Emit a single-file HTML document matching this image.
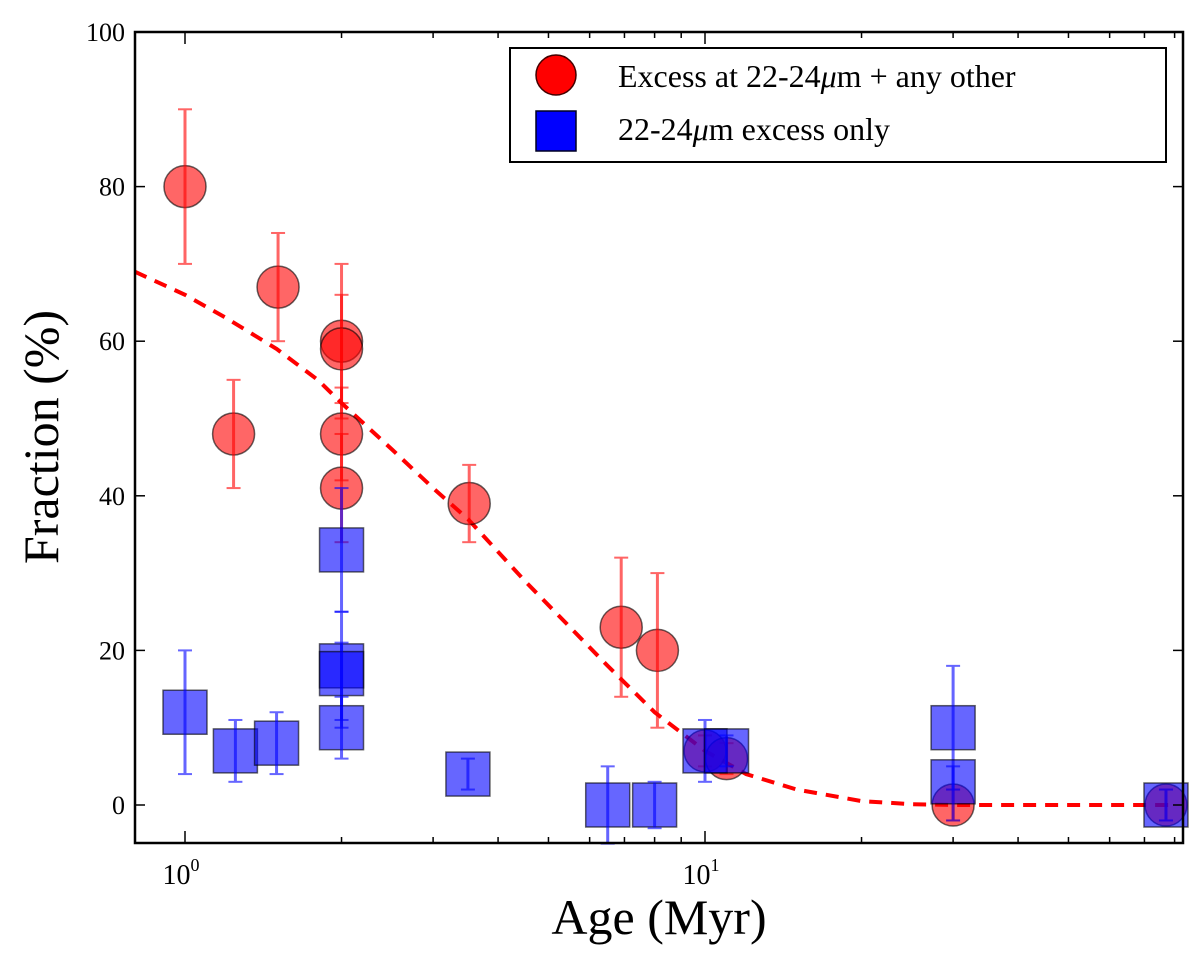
<!DOCTYPE html>
<html><head><meta charset="utf-8"><style>
body{margin:0;background:#fff}
svg{display:block;font-family:"Liberation Serif","DejaVu Serif",serif}
</style></head><body>
<svg id="chart" width="1200" height="962" viewBox="0 0 1200 962" xmlns="http://www.w3.org/2000/svg">
<g id="fit"></g>
<g id="marks"></g>
<g id="axes"></g>
<g>
<rect x="510" y="48" width="656" height="114" fill="#fff" stroke="#000" stroke-width="2"/>
<circle cx="556" cy="75" r="20" fill="#ff0000" stroke="#400" stroke-width="1.5"/>
<text x="618" y="87" font-size="32">Excess at 22-24<tspan font-style="italic">μ</tspan>m + any other</text>
<rect x="536" y="111" width="40" height="40" fill="#0000ff" stroke="#002" stroke-width="1.5"/>
<text x="618" y="140" font-size="32">22-24<tspan font-style="italic">μ</tspan>m excess only</text>
</g>
<text x="659" y="934" font-size="50" text-anchor="middle">Age (Myr)</text>
<text transform="translate(58,437) rotate(-90)" font-size="50" text-anchor="middle">Fraction (%)</text>
</svg>
<script>
const redAge=[1.0,1.24,1.51,2.0,2.0,2.0,2.0,3.52,6.9,8.1,10,11,30,77];
const redVal=[80,48,67,60,59,48,41,39,23,20,7,6,0,0];
const redLo=[70,41,60,50,52,42,34,34,14,10,5,4,-2,-2];
const redHi=[90,55,74,70,66,54,48,44,32,30,9,8,2,2];
const blueAge=[1.0,1.25,1.5,2.0,2.0,2.0,2.0,3.5,6.5,8.0,10,11,30,30,77];
const blueVal=[12,7,8,33,18,17,10,4,0,0,7,7,10,3,0];
const blueLo=[4,3,4,25,11,10,6,2,-5,-3,3,5,2,-2,-2];
const blueHi=[20,11,12,41,25,21,14,6,5,3,11,9,18,5,2];
const fitAge=[0.8,1.0,1.2,1.5,1.8,2.0,2.5,3.0,3.5,4.5,5.5,6.5,8,10,12,15,20,25,30,50,80];
const fitVal=[69,66,63,59,55,52,46,41,37,29,23,18,12,7,4,2,0.5,0.1,0,0,0];
const yTicks=[0,20,40,60,80,100];
const xMajor=[1,10];
const xMajorLab=["0","1"];

const NS="http://www.w3.org/2000/svg";
const L=135,R=1183,T=32,B=843;
const xs=a=>185+520*Math.log10(a);
const ys=v=>805-v*7.73;
function mk(tag,at,parent){const e=document.createElementNS(NS,tag);for(const k in at)e.setAttribute(k,at[k]);parent.appendChild(e);return e;}
const marks=document.getElementById('marks'),axes=document.getElementById('axes'),fit=document.getElementById('fit');

function errbar(a,lo,hi,col,name){
  const g=mk('g',{opacity:0.6},marks);
  
  
  const x=xs(a);
  mk('line',{x1:x,x2:x,y1:ys(lo),y2:ys(hi),stroke:col,'stroke-width':3},g);
  mk('line',{x1:x-7,x2:x+7,y1:ys(lo),y2:ys(lo),stroke:col,'stroke-width':2},g);
  mk('line',{x1:x-7,x2:x+7,y1:ys(hi),y2:ys(hi),stroke:col,'stroke-width':2},g);
}
for(let i=0;i<redAge.length;i++){
  const c=mk('circle',{cx:xs(redAge[i]),cy:ys(redVal[i]),r:21,fill:'#ff0000','fill-opacity':0.6,stroke:'#000','stroke-opacity':0.6,'stroke-width':1.5},marks);
  
  
  errbar(redAge[i],redLo[i],redHi[i],'#ff0000','red-error-bar');
}
for(let i=0;i<blueAge.length;i++){
  const r=mk('rect',{x:xs(blueAge[i])-22,y:ys(blueVal[i])-22,width:44,height:44,fill:'#0000ff','fill-opacity':0.6,stroke:'#000','stroke-opacity':0.6,'stroke-width':1.5},marks);
  
  
  errbar(blueAge[i],blueLo[i],blueHi[i],'#0000ff','blue-error-bar');
}
const pts=fitAge.map((a,i)=>xs(a).toFixed(1)+','+ys(fitVal[i]).toFixed(1)).join(' ');
const cp=mk('clipPath',{id:'clip'},fit);mk('rect',{x:L,y:T,width:R-L,height:B-T},cp);
const pl=mk('polyline',{points:pts,fill:'none',stroke:'#ff0000','stroke-width':4,'stroke-dasharray':'13,9','clip-path':'url(#clip)'},fit);


const fr=mk('rect',{x:L,y:T,width:R-L,height:B-T,fill:'none',stroke:'#000','stroke-width':2.5},axes);


yTicks.forEach(v=>{
  const y=ys(v);
  mk('line',{x1:L,x2:L+10,y1:y,y2:y,stroke:'#000','stroke-width':1.5},axes);
  mk('line',{x1:R,x2:R-10,y1:y,y2:y,stroke:'#000','stroke-width':1.5},axes);
  const t=mk('text',{x:L-10,y:y+9,'font-size':26,'text-anchor':'end'},axes);
  
  
  t.textContent=v;
});
for(let d=0;d<2;d++)for(let m=1;m<10;m++){
  const a=m*Math.pow(10,d);const x=xs(a);
  if(x<L||x>R)continue;
  const len=m===1?12:6;
  mk('line',{x1:x,x2:x,y1:B,y2:B-len,stroke:'#000','stroke-width':1.5},axes);
  mk('line',{x1:x,x2:x,y1:T,y2:T+len,stroke:'#000','stroke-width':1.5},axes);
}
xMajor.forEach((a,i)=>{
  const t=mk('text',{x:xs(a)-4,y:884,'font-size':28,'text-anchor':'middle'},axes);
  
  
  t.textContent='10';
  const s=mk('tspan',{dy:-13,'font-size':18},t);s.textContent=xMajorLab[i];
});
</script>
</body></html>
